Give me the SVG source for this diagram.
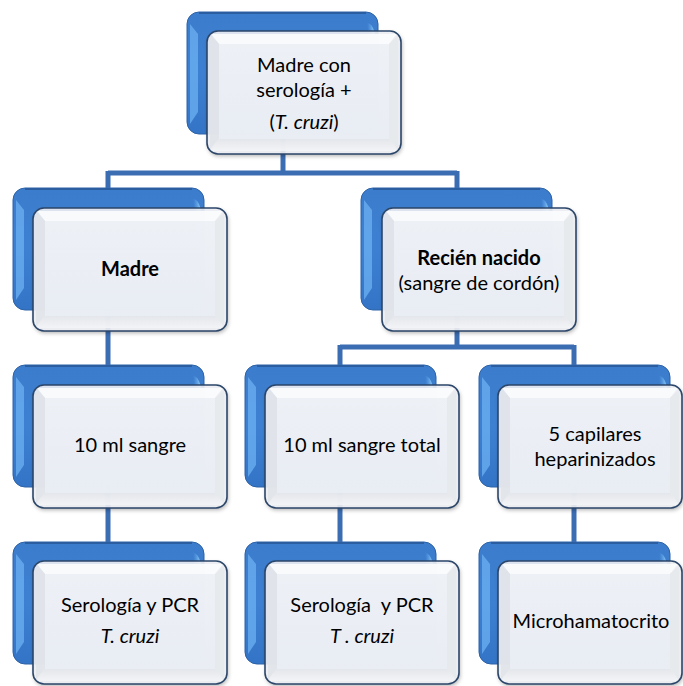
<svg xmlns="http://www.w3.org/2000/svg" xmlns:xlink="http://www.w3.org/1999/xlink" width="683" height="686" viewBox="0 0 683 686">
<style>
.conn{stroke:#3b6db3;stroke-width:5;fill:none;stroke-linecap:butt}
text{font-family:Lato,"Open Sans","Liberation Sans",sans-serif;font-size:20px;fill:#000;text-anchor:middle}
.b{font-weight:bold}
.i{font-style:italic}
</style>
<defs>
<linearGradient id="gBack" x1="0" y1="0" x2="0" y2="1">
<stop offset="0" stop-color="#3c7ccc"/>
<stop offset="0.5" stop-color="#3d80d2"/>
<stop offset="1" stop-color="#3474c6"/>
</linearGradient>
<linearGradient id="gHi" x1="0" y1="0" x2="1" y2="0">
<stop offset="0" stop-color="#5fa6ee" stop-opacity="0"/>
<stop offset="1" stop-color="#9ad8ff"/>
</linearGradient>
<linearGradient id="gInner" x1="0" y1="0" x2="0" y2="1">
<stop offset="0" stop-color="#eef1f6"/>
<stop offset="1" stop-color="#e9edf4"/>
</linearGradient>
<linearGradient id="gBot" x1="0" y1="0" x2="0" y2="1">
<stop offset="0" stop-color="#e2e5ea"/>
<stop offset="1" stop-color="#f4f5f7"/>
</linearGradient>
<filter id="sh" x="-10%" y="-10%" width="120%" height="125%">
<feGaussianBlur in="SourceAlpha" stdDeviation="2"/>
<feOffset dx="1" dy="2" result="o"/>
<feComponentTransfer><feFuncA type="linear" slope="0.35"/></feComponentTransfer>
<feMerge><feMergeNode/><feMergeNode in="SourceGraphic"/></feMerge>
</filter>
<g id="backShape">
<rect x="0" y="0" width="191" height="122" rx="12" fill="url(#gBack)" stroke="#2d62a6" stroke-width="1"/>
<path d="M3,12 L11,22 L11,100 L3,112 Z" fill="#6cb0f2" opacity="0.75"/>
<path d="M180,10 Q188,14 188,26 L188,40 L182,34 Z" fill="url(#gHi)"/>
<path d="M12,1 L179,1" stroke="#2a5ea0" stroke-width="2"/>
</g>
<g id="frontShape">
<rect x="0" y="0" width="194" height="123" rx="11" fill="#eef0f4" fill-opacity="0.9" filter="url(#sh)"/>
<path d="M4,3 L190,3 L182,13 L12,13 Z" fill="#fbfcfd" opacity="0.9"/>
<path d="M12,108 L182,108 L191,120 L3,120 Z" fill="url(#gBot)" opacity="0.85"/>
<path d="M3,5 L12,13 L12,108 L3,118 Z" fill="#e0e3e9" opacity="0.8"/>
<path d="M191,5 L182,13 L182,108 L191,118 Z" fill="#e6e8ec" opacity="0.8"/>
<rect x="12" y="13" width="170" height="95" fill="url(#gInner)" fill-opacity="0.93"/>
<rect x="0" y="0" width="194" height="123" rx="11" fill="none" stroke="#2b4669" stroke-width="1.6"/>
</g>
<g id="frontShapeR">
<rect x="0" y="0" width="184" height="123" rx="11" fill="#eef0f4" fill-opacity="0.9" filter="url(#sh)"/>
<path d="M4,3 L180,3 L172,13 L12,13 Z" fill="#fbfcfd" opacity="0.9"/>
<path d="M12,108 L172,108 L181,120 L3,120 Z" fill="url(#gBot)" opacity="0.85"/>
<path d="M3,5 L12,13 L12,108 L3,118 Z" fill="#e0e3e9" opacity="0.8"/>
<path d="M181,5 L172,13 L172,108 L181,118 Z" fill="#e6e8ec" opacity="0.8"/>
<rect x="12" y="13" width="160" height="95" fill="url(#gInner)" fill-opacity="0.93"/>
<rect x="0" y="0" width="184" height="123" rx="11" fill="none" stroke="#2b4669" stroke-width="1.6"/>
</g>
</defs>
<rect width="683" height="686" fill="#ffffff"/>

<g id="backs">
<use xlink:href="#backShape" x="187" y="12"/>
<use xlink:href="#backShape" x="13" y="188"/>
<use xlink:href="#backShape" x="361" y="188"/>
<use xlink:href="#backShape" x="13" y="365"/>
<use xlink:href="#backShape" x="245" y="365"/>
<use xlink:href="#backShape" x="479" y="365"/>
<use xlink:href="#backShape" x="13" y="542"/>
<use xlink:href="#backShape" x="245" y="542"/>
<use xlink:href="#backShape" x="479" y="542"/>
</g>

<g id="connectors">
<path class="conn" d="M283,134 V173 M108,173 H457 M108,171 V188 M457,171 V188"/>
<path class="conn" d="M108,310 V365"/>
<path class="conn" d="M108,487 V542"/>
<path class="conn" d="M457,310 V347 M340,347 H574 M340,345 V365 M574,345 V365"/>
<path class="conn" d="M340,487 V542"/>
<path class="conn" d="M574,487 V542"/>
</g>

<g id="n-madre-serologia">
<use xlink:href="#frontShape" x="207" y="31"/>
<text x="304" y="72">Madre con</text>
<text x="304" y="97">serología +</text>
<text x="304" y="129">(<tspan class="i">T. cruzi</tspan>)</text>
</g>
<g id="n-madre">
<use xlink:href="#frontShape" x="33" y="208"/>
<text class="b" x="130" y="276">Madre</text>
</g>
<g id="n-recien">
<use xlink:href="#frontShape" x="382" y="208"/>
<text class="b" x="479" y="265">Recién nacido</text>
<text x="479" y="290">(sangre de cordón)</text>
</g>
<g id="n-10ml">
<use xlink:href="#frontShape" x="33" y="385"/>
<text x="130" y="452">10 ml sangre</text>
</g>
<g id="n-10ml-total">
<use xlink:href="#frontShape" x="265" y="385"/>
<text x="362" y="452">10 ml sangre total</text>
</g>
<g id="n-capilares">
<use xlink:href="#frontShapeR" x="498" y="385"/>
<text x="595" y="441">5 capilares</text>
<text x="595" y="466">heparinizados</text>
</g>
<g id="n-sero-madre">
<use xlink:href="#frontShape" x="33" y="561"/>
<text x="130" y="612">Serología y PCR</text>
<text class="i" x="130" y="643">T. cruzi</text>
</g>
<g id="n-sero-rn">
<use xlink:href="#frontShape" x="265" y="561"/>
<text x="362" y="612" xml:space="preserve">Serología  y PCR</text>
<text class="i" x="362" y="643">T . cruzi</text>
</g>
<g id="n-micro">
<use xlink:href="#frontShapeR" x="498" y="561"/>
<text x="591" y="628">Microhamatocrito</text>
</g>
</svg>
